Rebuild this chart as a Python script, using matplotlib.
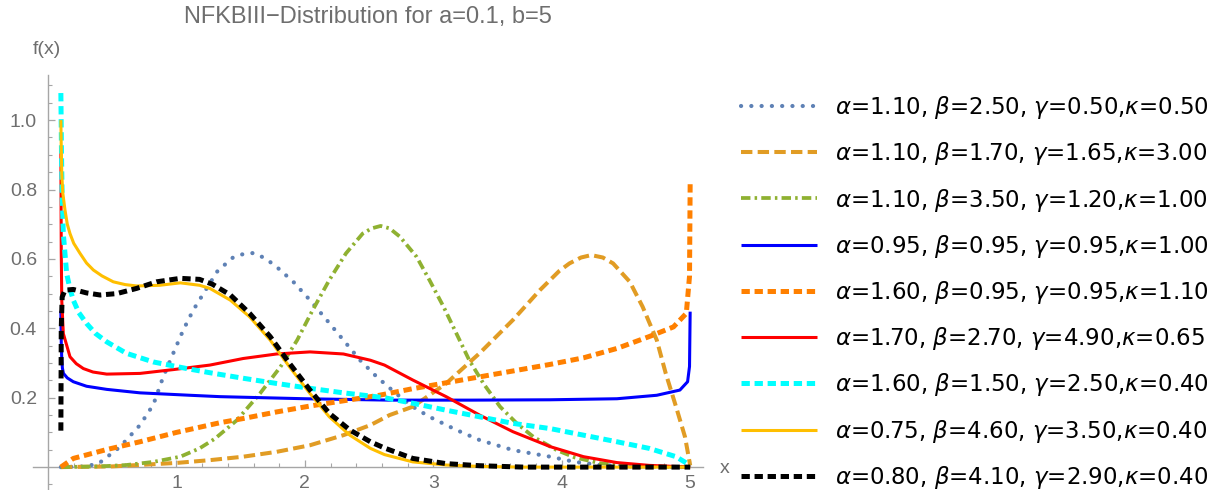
import matplotlib
matplotlib.use("Agg")
import matplotlib.pyplot as plt
from matplotlib.ticker import FixedLocator

plt.rcParams['font.family'] = ['Liberation Sans', 'DejaVu Sans']
plt.rcParams['mathtext.fontset'] = 'dejavusans'
plt.rcParams['lines.scale_dashes'] = False

title = "NFKBIII\u2212Distribution for a=0.1, b=5"
labels = [
    r"$\alpha$=1.10, $\beta$=2.50, $\gamma$=0.50,$\kappa$=0.50",
    r"$\alpha$=1.10, $\beta$=1.70, $\gamma$=1.65,$\kappa$=3.00",
    r"$\alpha$=1.10, $\beta$=3.50, $\gamma$=1.20,$\kappa$=1.00",
    r"$\alpha$=0.95, $\beta$=0.95, $\gamma$=0.95,$\kappa$=1.00",
    r"$\alpha$=1.60, $\beta$=0.95, $\gamma$=0.95,$\kappa$=1.10",
    r"$\alpha$=1.70, $\beta$=2.70, $\gamma$=4.90,$\kappa$=0.65",
    r"$\alpha$=1.60, $\beta$=1.50, $\gamma$=2.50,$\kappa$=0.40",
    r"$\alpha$=0.75, $\beta$=4.60, $\gamma$=3.50,$\kappa$=0.40",
    r"$\alpha$=0.80, $\beta$=4.10, $\gamma$=2.90,$\kappa$=0.40",
]

# curve 1: steel-blue dotted
x1 = [0.10, 0.30, 0.40, 0.56, 0.716, 0.82, 0.897, 0.975, 1.053, 1.13, 1.21, 1.32, 1.44, 1.52, 1.60, 1.69, 1.78, 1.91, 2.04, 2.17, 2.30, 2.43, 2.56, 2.71, 2.84, 2.97, 3.18, 3.36, 3.62, 3.91, 4.10, 4.30, 4.60, 5.00]
y1 = [0.0, 0.002, 0.012, 0.058, 0.121, 0.18, 0.26, 0.328, 0.395, 0.452, 0.50, 0.565, 0.604, 0.614, 0.617, 0.602, 0.577, 0.534, 0.481, 0.424, 0.366, 0.308, 0.26, 0.212, 0.174, 0.145, 0.107, 0.078, 0.049, 0.03, 0.015, 0.006, 0.001, 0.0]
# curve 2: gold dashed
x2 = [0.10, 0.50, 1.00, 1.26, 1.52, 1.78, 2.04, 2.30, 2.51, 2.66, 2.84, 3.10, 3.36, 3.62, 3.83, 3.98, 4.06, 4.15, 4.23, 4.32, 4.40, 4.53, 4.63, 4.74, 4.81, 4.89, 4.96, 5.00]
y2 = [0.0, 0.002, 0.012, 0.02, 0.03, 0.044, 0.063, 0.092, 0.121, 0.15, 0.174, 0.241, 0.328, 0.424, 0.51, 0.565, 0.587, 0.604, 0.611, 0.604, 0.587, 0.534, 0.462, 0.366, 0.27, 0.174, 0.087, 0.005]
# curve 3: green dash-dot
x3 = [0.10, 0.40, 0.61, 0.82, 1.03, 1.18, 1.30, 1.47, 1.65, 1.81, 1.94, 2.06, 2.19, 2.32, 2.45, 2.52, 2.59, 2.66, 2.74, 2.87, 2.97, 3.08, 3.18, 3.28, 3.39, 3.52, 3.65, 3.78, 3.96, 4.10, 4.30, 4.60, 5.00]
y3 = [0.0, 0.002, 0.006, 0.015, 0.03, 0.054, 0.082, 0.135, 0.212, 0.289, 0.366, 0.452, 0.539, 0.616, 0.673, 0.688, 0.695, 0.688, 0.664, 0.606, 0.539, 0.462, 0.385, 0.308, 0.241, 0.174, 0.126, 0.087, 0.049, 0.028, 0.011, 0.002, 0.0]
# curve 4: blue solid
x4 = [0.100, 0.103, 0.107, 0.112, 0.12, 0.15, 0.197, 0.30, 0.457, 0.716, 1.105, 1.34, 2.00, 2.66, 3.30, 3.91, 4.43, 4.74, 4.92, 4.98, 4.995, 5.00]
y4 = [0.45, 0.36, 0.31, 0.285, 0.27, 0.257, 0.246, 0.233, 0.224, 0.214, 0.207, 0.203, 0.197, 0.193, 0.193, 0.194, 0.197, 0.207, 0.222, 0.246, 0.29, 0.448]
# curve 5: orange dashed
x5 = [0.10, 0.197, 0.45, 0.716, 1.00, 1.34, 1.52, 1.78, 2.04, 2.30, 2.58, 2.84, 3.10, 3.36, 3.62, 3.91, 4.17, 4.43, 4.68, 4.87, 4.97, 4.995, 5.00]
y5 = [0.0, 0.025, 0.05, 0.073, 0.10, 0.128, 0.14, 0.159, 0.176, 0.191, 0.207, 0.226, 0.243, 0.26, 0.277, 0.296, 0.315, 0.342, 0.376, 0.404, 0.443, 0.55, 0.818]
# curve 6: red solid
x6 = [0.100, 0.103, 0.107, 0.119, 0.171, 0.22, 0.275, 0.35, 0.457, 0.716, 0.975, 1.26, 1.52, 1.78, 2.04, 2.30, 2.51, 2.62, 2.84, 3.10, 3.36, 3.62, 3.91, 4.17, 4.43, 4.68, 5.00]
y6 = [0.92, 0.62, 0.48, 0.385, 0.318, 0.298, 0.284, 0.274, 0.268, 0.27, 0.281, 0.294, 0.313, 0.326, 0.332, 0.326, 0.308, 0.294, 0.251, 0.203, 0.15, 0.102, 0.059, 0.03, 0.013, 0.005, 0.0]
# curve 7: cyan dashed
x7 = [0.100, 0.105, 0.110, 0.119, 0.145, 0.17, 0.197, 0.24, 0.30, 0.37, 0.457, 0.61, 0.82, 1.08, 1.26, 1.52, 1.78, 2.04, 2.30, 2.62, 2.84, 3.10, 3.36, 3.62, 3.91, 4.17, 4.43, 4.68, 4.89, 5.00]
y7 = [1.078, 0.90, 0.78, 0.673, 0.558, 0.515, 0.481, 0.445, 0.414, 0.385, 0.361, 0.328, 0.303, 0.284, 0.272, 0.256, 0.241, 0.227, 0.214, 0.200, 0.184, 0.164, 0.145, 0.126, 0.111, 0.092, 0.073, 0.054, 0.03, 0.005]
# curve 8: amber solid
x8 = [0.100, 0.103, 0.107, 0.115, 0.132, 0.15, 0.171, 0.20, 0.249, 0.30, 0.353, 0.42, 0.508, 0.60, 0.69, 0.87, 1.03, 1.18, 1.26, 1.42, 1.57, 1.73, 1.88, 2.04, 2.19, 2.35, 2.51, 2.62, 2.84, 3.10, 3.36, 3.70, 5.00]
y8 = [1.00, 0.92, 0.846, 0.79, 0.741, 0.70, 0.673, 0.645, 0.616, 0.588, 0.568, 0.551, 0.534, 0.526, 0.522, 0.524, 0.531, 0.524, 0.515, 0.481, 0.433, 0.366, 0.289, 0.212, 0.145, 0.092, 0.054, 0.036, 0.015, 0.006, 0.002, 0.0, 0.0]
# curve 9: black dashed
x9 = [0.100, 0.103, 0.110, 0.132, 0.197, 0.30, 0.405, 0.535, 0.69, 0.846, 1.03, 1.18, 1.28, 1.42, 1.57, 1.73, 1.88, 2.04, 2.19, 2.35, 2.51, 2.62, 2.84, 3.10, 3.36, 3.70, 5.00]
y9 = [0.105, 0.40, 0.49, 0.51, 0.512, 0.502, 0.496, 0.50, 0.515, 0.534, 0.544, 0.541, 0.527, 0.496, 0.443, 0.376, 0.299, 0.222, 0.155, 0.107, 0.073, 0.055, 0.025, 0.01, 0.004, 0.0, 0.0]

xs = [x1, x2, x3, x4, x5, x6, x7, x8, x9]
ys = [y1, y2, y3, y4, y5, y6, y7, y8, y9]

colors = ['#5E81B5', '#E19C24', '#8FB131', '#0000FF', '#FF8000', '#FF0000', '#00FFFF', '#FFBF00', '#000000']
widths = [3.0, 2.9, 2.7, 2.2, 3.6, 2.2, 3.6, 2.2, 3.6]
dashes = [(0, (0.1, 7.3)), (0, (8.2, 3.8)), (0, (6.8, 3.0, 1.8, 3.0)), 'solid', (0, (6.0, 3.4)),
          'solid', (0, (6.0, 3.4)), 'solid', (0, (6.0, 3.4))]
caps = ['round', 'butt', 'butt', 'round', 'butt', 'round', 'butt', 'round', 'butt']

W, H = 1212, 490
fig = plt.figure(figsize=(W / 100, H / 100), dpi=100)
ax_l, ax_r, ax_t, ax_b = 33, 703, 75, 490
ax = fig.add_axes([ax_l / W, 1 - ax_b / H, (ax_r - ax_l) / W, (ax_b - ax_t) / H])
ax.set_xlim(-0.117, 5.10)
ax.set_ylim(-0.066, 1.13)

handles = []
for i in range(9):
    ln, = ax.plot(xs[i], ys[i], color=colors[i], lw=widths[i], linestyle=dashes[i],
                  dash_capstyle=caps[i], solid_capstyle='butt', solid_joinstyle='round',
                  label=labels[i], zorder=3 + i)
    handles.append(ln)

axis_col = '#A6A6A6'
for s in ['top', 'right']:
    ax.spines[s].set_visible(False)
ax.spines['left'].set_position(('data', 0))
ax.spines['bottom'].set_position(('data', 0))
for s in ['left', 'bottom']:
    ax.spines[s].set_color(axis_col)
    ax.spines[s].set_linewidth(1.0)

ax.xaxis.set_major_locator(FixedLocator([1, 2, 3, 4, 5]))
ax.xaxis.set_minor_locator(FixedLocator([0.2 * k for k in range(1, 26) if k % 5 != 0]))
ax.yaxis.set_major_locator(FixedLocator([0.2, 0.4, 0.6, 0.8, 1.0]))
ax.yaxis.set_minor_locator(FixedLocator([-0.05] + [0.05 * k for k in range(1, 23) if k % 4 != 0]))
ax.set_xticklabels(['1', '2', '3', '4', '5'])
ax.set_yticklabels(['0.2', '0.4', '0.6', '0.8', '1.0'])
ax.tick_params(which='both', direction='in', color=axis_col, labelcolor='#6E6E6E', labelsize=14)
ax.tick_params(which='major', length=5, width=0.9)
ax.tick_params(which='minor', length=3, width=0.8)
ax.tick_params(axis='x', which='both', pad=6)
ax.tick_params(axis='y', which='both', pad=8)
ax.set_facecolor('none')

fig.text(368 / W, 1 - 17 / H, title, ha='center', va='center', fontsize=17, color='#6E6E6E')
fig.text(47 / W, 1 - 50 / H, 'f(x)', ha='center', va='center', fontsize=14, color='#6E6E6E')
fig.text(725 / W, 1 - 468 / H, 'x', ha='center', va='center', fontsize=14, color='#6E6E6E')

fig.legend(handles=handles, loc='upper left', bbox_to_anchor=(741 / W, 1 - 94 / H),
           frameon=False, prop={'family': 'DejaVu Sans', 'size': 16.5},
           handlelength=3.32, handletextpad=0.8,
           labelspacing=0.84, borderaxespad=0, borderpad=0)

fig.savefig('out.png', dpi=100)
